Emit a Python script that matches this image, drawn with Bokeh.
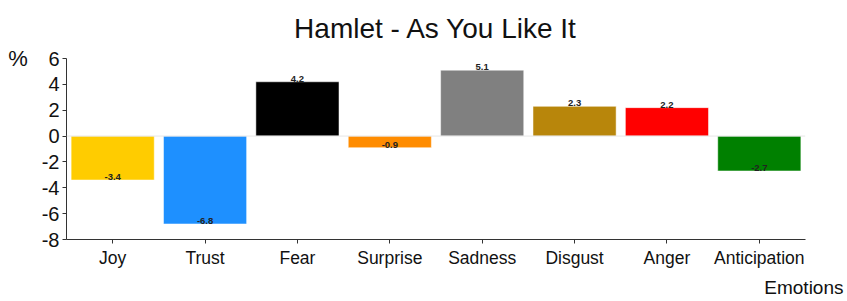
from bokeh.plotting import figure
from bokeh.models import ColumnDataSource, FactorRange, Range1d, Span, FixedTicker, Title
from bokeh.embed import file_html
from bokeh.resources import INLINE
from bokeh.core.properties import value

emotions = ["Joy", "Trust", "Fear", "Surprise", "Sadness", "Disgust", "Anger", "Anticipation"]
values = [-3.4, -6.8, 4.2, -0.9, 5.1, 2.3, 2.2, -2.7]
colors = ["#FFCC00", "#1E90FF", "#000000", "#FF8C00", "#808080", "#B8860B", "#FF0000", "#008000"]
labels = ["%.1f" % v for v in values]
y_ticks = [-8, -6, -4, -2, 0, 2, 4, 6]

FONT = "Liberation Sans"

src = ColumnDataSource(dict(x=emotions, top=values, color=colors, label=labels))

p = figure(width=847, height=301, output_backend="svg", toolbar_location=None,
           x_range=FactorRange(*emotions, range_padding=0), y_range=Range1d(-8, 6),
           min_border_left=66, min_border_right=42, min_border_top=57, min_border_bottom=61)

p.vbar(x="x", top="top", bottom=0, width=0.9, color="color", source=src,
       line_color="white", line_alpha=0.5, line_width=1)

p.add_layout(Span(location=0, dimension="width", line_color="#e6e6e6", line_width=1), "below")

p.text(x="x", y="top", text="label", source=src, text_align="center", text_baseline="bottom",
       text_font=value(FONT), text_font_size="9.5px", text_font_style="bold", text_color="#222222")

p.xgrid.visible = False
p.ygrid.visible = False
p.outline_line_color = None

for ax in (p.xaxis[0], p.yaxis[0]):
    ax.axis_line_color = "#333333"
    ax.major_tick_line_color = "#333333"
    ax.major_tick_out = 4
    ax.major_tick_in = 0
    ax.minor_tick_line_color = None
    ax.major_label_text_font = FONT
    ax.major_label_text_color = "#111111"

p.xaxis.major_label_text_font_size = "17.5px"
p.yaxis.major_label_text_font_size = "20px"
p.yaxis.ticker = FixedTicker(ticks=y_ticks)
p.yaxis.major_label_overrides = {t: str(t) for t in y_ticks}
p.yaxis.major_label_standoff = 3
p.xaxis.major_label_standoff = 4

yax = p.yaxis[0]
yax.axis_label = "%"
yax.axis_label_text_font = FONT
yax.axis_label_text_font_size = "22px"
yax.axis_label_text_font_style = "normal"
yax.axis_label_text_color = "#111111"
yax.axis_label_standoff = 11
yax.axis_label_orientation = "horizontal"
yax.axis_label_align = "end"

p.title.text = "Hamlet - As You Like It"
p.title.align = "center"
p.title.vertical_align = "top"
p.title.standoff = 25
p.title.text_font = FONT
p.title.text_font_size = "28px"
p.title.text_font_style = "normal"
p.title.text_color = "#111111"

p.add_layout(Title(text="Emotions", align="right", offset=-38, standoff=8, text_font=FONT,
                   text_font_size="19px", text_font_style="normal", text_color="#111111"), "below")

open("out.html", "w").write(file_html(p, INLINE))
